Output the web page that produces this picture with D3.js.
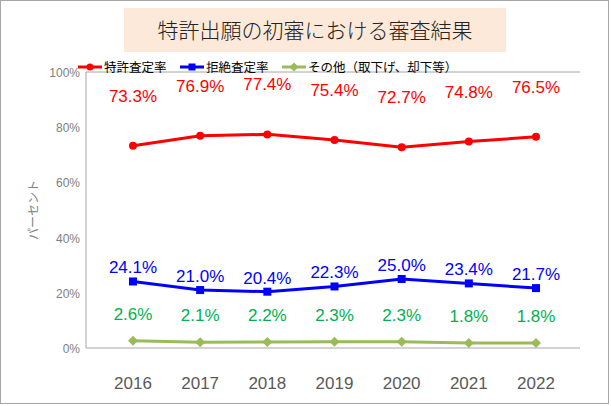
<!DOCTYPE html>
<html><head><meta charset="utf-8">
<script src="https://cdn.jsdelivr.net/npm/d3@7"></script>
<style>body{margin:0;background:#fff}</style>
</head><body><div id="chart"></div>
<script>
var years = ['2016','2017','2018','2019','2020','2021','2022'];
var grantRate = [73.3, 76.9, 77.4, 75.4, 72.7, 74.8, 76.5];
var rejectRate = [24.1, 21.0, 20.4, 22.3, 25.0, 23.4, 21.7];
var otherRate = [2.6, 2.1, 2.2, 2.3, 2.3, 1.8, 1.8];
var yTicks = [0, 20, 40, 60, 80, 100];
var seriesNames = ['特許査定率', '拒絶査定率', 'その他（取下げ、却下等）'];

var series = [
    {name: seriesNames[0], values: grantRate, color: '#ff0000', labelColor: '#ff0000', shape: 'circle', dy: -44},
    {name: seriesNames[1], values: rejectRate, color: '#0000ff', labelColor: '#0000ff', shape: 'square', dy: -8},
    {name: seriesNames[2], values: otherRate, color: '#9bbb59', labelColor: '#00b050', shape: 'diamond', dy: -21}
];

var font = "'Noto Sans CJK JP', sans-serif";
var svg = d3.select('#chart').append('svg').attr('width', 611).attr('height', 406);
svg.append('rect').attr('x', 0.5).attr('y', 0.5).attr('width', 608).attr('height', 403)
    .attr('fill', '#fff').attr('stroke', '#a6a6a6');

// title
svg.append('rect').attr('x', 124).attr('y', 8).attr('width', 382).attr('height', 44).attr('fill', '#fde9d9');
svg.append('text').attr('x', 315).attr('y', 38).attr('text-anchor', 'middle')
    .attr('font-family', font).attr('font-weight', 300).attr('font-size', 21).attr('fill', '#222').text('特許出願の初審における審査結果');

var x = d3.scalePoint().domain(years).range([133, 536]);
var y = d3.scaleLinear().domain([0, 100]).range([348, 72]);

// axes
svg.append('line').attr('x1', 86).attr('x2', 86).attr('y1', 72).attr('y2', 348).attr('stroke', '#a6a6a6');
svg.append('line').attr('x1', 86).attr('x2', 580).attr('y1', 72).attr('y2', 72).attr('stroke', '#a6a6a6');
svg.append('line').attr('x1', 86).attr('x2', 580).attr('y1', 348).attr('y2', 348).attr('stroke', '#a6a6a6');

svg.selectAll('.ytick').data(yTicks).enter().append('text')
    .attr('x', 80).attr('y', d => y(d) + 5).attr('text-anchor', 'end')
    .attr('font-family', 'Arial, Liberation Sans, sans-serif').attr('font-size', 12).attr('fill', '#808080')
    .text(d => d + '%');

svg.selectAll('.xtick').data(years).enter().append('text')
    .attr('x', d => x(d)).attr('y', 389).attr('text-anchor', 'middle')
    .attr('font-family', 'Arial, Liberation Sans, sans-serif').attr('font-size', 17).attr('fill', '#595959')
    .text(d => d);

svg.append('text').attr('transform', 'translate(38,210) rotate(-90)').attr('text-anchor', 'middle')
    .attr('font-family', font).attr('font-size', 12).attr('fill', '#808080').text('パーセント');

var line = d3.line().x((d, i) => x(years[i])).y(d => y(d));

function marker(g, s, cx, cy, r) {
    if (s.shape === 'circle') g.append('circle').attr('cx', cx).attr('cy', cy).attr('r', r).attr('fill', s.color);
    else if (s.shape === 'square') g.append('rect').attr('x', cx - r).attr('y', cy - r).attr('width', 2 * r).attr('height', 2 * r).attr('fill', s.color);
    else g.append('path').attr('d', `M${cx},${cy - r - 1}L${cx + r + 1},${cy}L${cx},${cy + r + 1}L${cx - r - 1},${cy}Z`).attr('fill', s.color);
}

series.forEach(function(s) {
    var g = svg.append('g');
    g.append('path').attr('d', line(s.values)).attr('fill', 'none').attr('stroke', s.color).attr('stroke-width', 3);
    s.values.forEach(function(v, i) { marker(g, s, x(years[i]), y(v), 4); });
    g.selectAll('text').data(s.values).enter().append('text')
        .attr('x', (d, i) => x(years[i])).attr('y', d => y(d) + s.dy)
        .attr('text-anchor', 'middle').attr('font-family', 'Arial, Liberation Sans, sans-serif')
        .attr('font-size', 17).attr('fill', s.labelColor).text(d => d.toFixed(1) + '%');
});

// legend
var lx = [78, 180, 282];
series.forEach(function(s, i) {
    var g = svg.append('g');
    g.append('line').attr('x1', lx[i]).attr('x2', lx[i] + 24).attr('y1', 67).attr('y2', 67).attr('stroke', s.color).attr('stroke-width', 3);
    marker(g, s, lx[i] + 12, 67, 3.5);
    g.append('text').attr('x', lx[i] + 26).attr('y', 72).attr('font-family', font).attr('font-size', 12.5)
        .attr('fill', '#000').text(s.name);
});
</script></body></html>
